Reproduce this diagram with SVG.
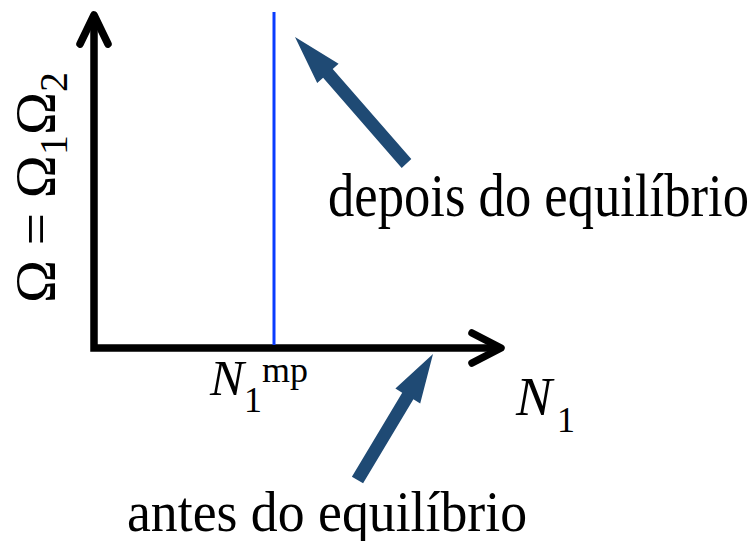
<svg xmlns="http://www.w3.org/2000/svg" width="756" height="541" viewBox="0 0 756 541">
<style>
.axis{fill:none;stroke:#000;stroke-width:7.5}
.head{fill:none;stroke:#000;stroke-width:7.5;stroke-linecap:round;stroke-linejoin:round}
.t{font-family:"Liberation Serif","Times New Roman",serif;fill:#000}
.ptr{fill:#1f4a74}
</style>
<rect width="756" height="541" fill="#fff"/>
<g id="connectors">
<path class="axis" d="M94,17 L94,348 L498,348" stroke-linejoin="miter"/>
<path class="head" d="M80,44 L94,15 L108,44"/>
<path class="head" d="M472,333 L501,348 L472,363"/>
<line id="equilibrium-line" x1="274" y1="12" x2="274" y2="345" stroke="#0a3cff" stroke-width="3"/>
<polygon class="ptr" points="295,37 338.6,63.7 332.7,69 411.3,159.1 401.7,167.9 323.1,77.8 317.2,83.1"/>
<polygon class="ptr" points="433,354 420.2,403.5 413.4,399.3 363.1,483.3 351.9,476.7 402.2,392.7 395.4,388.5"/>
</g>
<g id="y-label" transform="translate(55,303) rotate(-90)">
<text class="t" x="0" y="0" font-size="58">Ω = Ω<tspan font-size="40" dy="12">1</tspan><tspan dy="-12">Ω</tspan><tspan font-size="40" dy="12">2</tspan></text>
</g>
<g id="x-label">
<text class="t" x="516" y="415" font-size="54" font-style="italic">N</text>
<text class="t" x="557" y="432" font-size="36">1</text>
</g>
<g id="n1mp-label">
<text class="t" x="210" y="395" font-size="51" font-style="italic">N</text>
<text class="t" x="244" y="412" font-size="36">1</text>
<text class="t" x="262" y="382" font-size="36">mp</text>
</g>
<g id="after-label">
<text class="t" x="328" y="216" font-size="61" textLength="421" lengthAdjust="spacingAndGlyphs">depois do equilíbrio</text>
</g>
<g id="before-label">
<text class="t" x="127" y="531" font-size="58" textLength="400" lengthAdjust="spacingAndGlyphs">antes do equilíbrio</text>
</g>
</svg>
